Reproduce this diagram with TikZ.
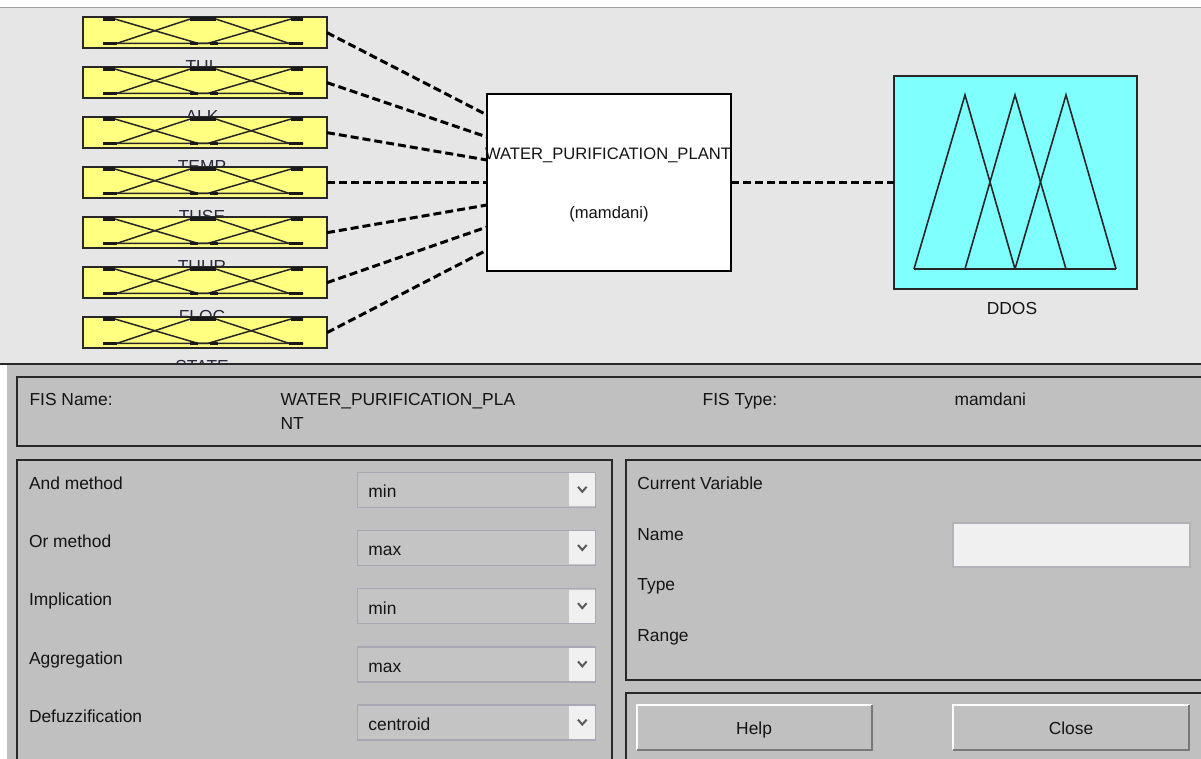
\documentclass[tikz,border=0pt]{standalone}
\usepackage{fontspec}
\setmainfont{Liberation Sans}
\usetikzlibrary{calc}
\definecolor{topbg}{RGB}{230,230,230}
\definecolor{botbg}{RGB}{192,192,192}
\definecolor{inyel}{RGB}{255,255,128}
\definecolor{outcyan}{RGB}{128,255,255}
\definecolor{frame}{RGB}{40,40,40}
\definecolor{txt}{RGB}{20,20,20}
\definecolor{labtxt}{RGB}{40,40,60}
\definecolor{ddborder}{RGB}{168,168,180}
\definecolor{ddfill}{RGB}{196,196,196}
\definecolor{ddarrow}{RGB}{240,240,240}
\definecolor{chev}{RGB}{90,90,90}
\definecolor{fieldfill}{RGB}{240,240,240}
\definecolor{fieldborder}{RGB}{178,178,184}
\definecolor{btnshadow}{RGB}{120,120,120}
\definecolor{topline}{RGB}{160,160,160}
\tikzset{
  every node/.style={inner sep=0pt, outer sep=0pt, text=txt, font=\fontsize{8.7}{10}\selectfont},
  inbox/.style={draw=frame, line width=0.8pt, fill=inyel, minimum width=122pt, minimum height=15.5pt},
  sysbox/.style={draw=black, line width=1.3pt, fill=white, minimum width=122pt, minimum height=88.5pt},
  outbox/.style={draw=frame, line width=0.9pt, fill=outcyan, minimum width=121.5pt, minimum height=106.5pt},
  conn/.style={draw=black, line width=1.5pt, dash pattern=on 4pt off 2pt},
  mfthin/.style={draw=black!85, line width=0.75pt},
  mfthick/.style={draw=black!90, line width=1.6pt},
  tri/.style={draw=black!85, line width=0.8pt, line join=miter},
  panel/.style={draw=frame, line width=1pt},
  lbl/.style={anchor=base west},
  vlab/.style={anchor=base, text=labtxt},
  ddbox/.style={draw=ddborder, line width=0.7pt, fill=ddfill, minimum width=119pt, minimum height=17.5pt, anchor=north west},
  fieldbox/.style={draw=fieldborder, line width=1pt, fill=fieldfill, minimum width=118.5pt, minimum height=22.2pt, anchor=north west},
  btnbox/.style={fill=botbg, minimum width=118.6pt, minimum height=23.2pt, anchor=north west},
}
\begin{document}
\begin{tikzpicture}[x=0.5pt,y=-0.5pt]
\useasboundingbox (0,0) rectangle (1201,759);
\clip (0,0) rectangle (1201,759);
% top area
\fill[white] (0,0) rectangle (1201,8);
\fill[topbg] (0,8) rectangle (1201,365);
\draw[topline, line width=0.5pt] (0,7.5) -- (1201,7.5);
% variable labels (partly hidden by the boxes below them)
\foreach \nm [count=\i] in {TUL,ALK,TEMP,TUSE,TUUR,FLOC,STATE}{
  \node[vlab] (lab\i) at (202,{72.5+50*(\i-1)}) {\nm};
}
% input boxes with membership functions
\foreach \i in {1,...,7}{
  \pgfmathsetmacro\c{32.65+50*(\i-1)}
  \pgfmathsetmacro\T{\c-13.6}
  \pgfmathsetmacro\B{\c+10.7}
  \node[inbox] (in\i) at (205,\c) {};
  \draw[mfthin] (103,\T) -- (115,\T) -- (198,\B) -- (303,\B);
  \draw[mfthin] (103,\B) -- (117,\B) -- (190,\T) -- (216,\T) -- (289,\B) -- (303,\B);
  \draw[mfthin] (103,\B) -- (208,\B) -- (291,\T) -- (303,\T);
  \draw[mfthick] (103,\T) -- (115,\T) (190,\T) -- (216,\T) (291,\T) -- (303,\T);
  \draw[mfthick] (103,\B) -- (117,\B) (190,\B) -- (198,\B) (210,\B) -- (218,\B) (289,\B) -- (303,\B);
}
% system box
\node[sysbox] (sys) at (609,182.5) {};
\node[anchor=base, font=\fontsize{8.3}{10}\selectfont] (sysname) at (608,159.5) {WATER\_PURIFICATION\_PLANT};
\node[anchor=base, font=\fontsize{8.3}{10}\selectfont] (systype) at (609,218.5) {(mamdani)};
% connectors inputs -> system
\foreach \i/\y in {1/115,2/137,3/160,4/182.65,5/205,6/227,7/250}{
  \coordinate (s\i) at ($(sys.west)+(0,\y-182.5)$);
  \draw[conn] (in\i.east) -- (s\i);
}
% output box
\node[outbox] (out) at (1015.5,182.5) {};
\draw[tri] (914,269) -- (1116,269);
\draw[tri] (914,269) -- (965,95) -- (1015,269);
\draw[tri] (965,269) -- (1015,95) -- (1066,269);
\draw[tri] (1015,269) -- (1066,95) -- (1116,269);
\node[anchor=base] (ddos) at (1012,314.5) {DDOS};
\draw[conn] (sys.east) -- (out.west);
% bottom area
\fill[botbg] (7,365) rectangle (1201,759);
\draw[frame, line width=1pt] (0,364.5) -- (1201,364.5);
\draw[panel] (17,377) rectangle (1215,446.5);
\draw[panel] (17,460) rectangle (611.5,775);
\draw[panel] (625.5,460) rectangle (1215,680);
\draw[panel] (625.5,693) rectangle (1215,775);
% FIS name / type
\node[lbl] (fisn) at (29.6,406) {FIS Name:};
\node[lbl] (fisv1) at (280.5,406) {WATER\_PURIFICATION\_PLA};
\node[lbl] (fisv2) at (280.5,430) {NT};
\node[lbl] (fist) at (702.7,406) {FIS Type:};
\node[lbl] (fistv) at (954.5,406) {mamdani};
% methods
\foreach \lab/\val [count=\i] in {And method/min,Or method/max,Implication/min,Aggregation/max,Defuzzification/centroid}{
  \pgfmathsetmacro\t{472.3+58.2*(\i-1)}
  \node[lbl] (m\i) at (29,{\t+17.2}) {\lab};
  \node[ddbox] (d\i) at (357.7,\t) {};
  \fill[ddarrow] (569,{\t+1}) rectangle (595,{\t+34});
  \draw[chev, line width=1pt] (578,{\t+14.5}) -- (582.3,{\t+19.5}) -- (586.6,{\t+14.5});
  \node[lbl] (v\i) at (368.4,{\t+25.3}) {\val};
}
% current variable
\node[lbl] (cv) at (637.4,489) {Current Variable};
\node[lbl] (cvn) at (637.4,540.5) {Name};
\node[lbl] (cvt) at (637.4,590.8) {Type};
\node[lbl] (cvr) at (637.4,641.5) {Range};
\node[fieldbox] (namefield) at (953,522.7) {};
% buttons
\foreach \b/\x/\tx in {help/635.5/Help,close/952.4/Close}{
  \node[btnbox] (\b) at (\x,704.3) {};
  \draw[white, line width=1pt] ([shift={(1,-1)}]\b.south west) -- ([shift={(1,1)}]\b.north west) -- ([shift={(-1,1)}]\b.north east);
  \draw[btnshadow, line width=1pt] ([shift={(-1,1)}]\b.north east) -- ([shift={(-1,-1)}]\b.south east) -- ([shift={(1,-1)}]\b.south west);
  \node[anchor=base] (\b t) at ($(\b.center)+(0,6.8)$) {\tx};
}
\end{tikzpicture}
\end{document}
